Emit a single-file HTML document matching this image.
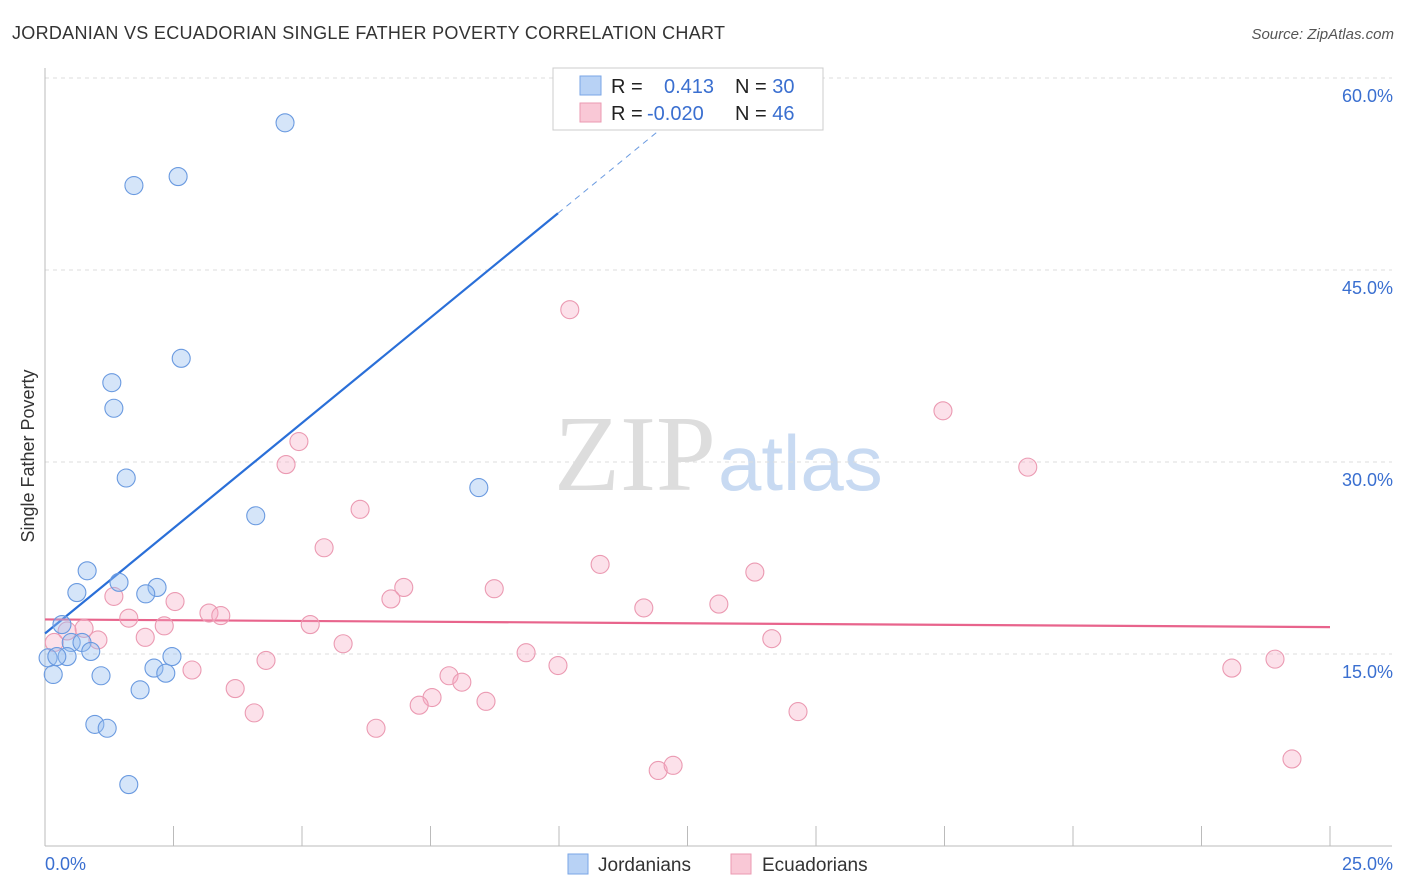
<!DOCTYPE html>
<html><head><meta charset="utf-8"><style>
body{margin:0;background:#fff;font-family:"Liberation Sans",sans-serif}
</style></head><body>
<svg id="c" width="1406" height="892" style="display:block">
<text x="12" y="39" font-size="18" fill="#333" textLength="713">JORDANIAN VS ECUADORIAN SINGLE FATHER POVERTY CORRELATION CHART</text>
<text x="1394" y="39" font-size="15" fill="#555" font-style="italic" text-anchor="end">Source: ZipAtlas.com</text>
<text transform="translate(34,456) rotate(-90)" font-size="18" fill="#333" text-anchor="middle">Single Father Poverty</text>
<text x="716" y="490" font-size="108" fill="#ddd" text-anchor="end" font-family="Liberation Serif,serif">ZIP</text>
<text x="718" y="490" font-size="78" fill="#c8daf2">atlas</text>
<g id="grid"></g><g id="axes"></g><g id="lines"></g><g id="pts"></g>
<g>
<rect x="553" y="68" width="270" height="62" fill="#fff" stroke="#ccc"/>
<rect x="580" y="76" width="21" height="19" fill="#b8d2f5" stroke="#7aa6e6"/>
<rect x="580" y="103" width="21" height="19" fill="#f9c8d6" stroke="#eb9ab2"/>
<text x="611" y="93" font-size="20" fill="#222">R = <tspan fill="#3a6fd0" x="664">0.413</tspan><tspan fill="#222" x="735">N = </tspan><tspan fill="#3a6fd0">30</tspan></text>
<text x="611" y="120" font-size="20" fill="#222">R = <tspan fill="#3a6fd0" x="647">-0.020</tspan><tspan fill="#222" x="735">N = </tspan><tspan fill="#3a6fd0">46</tspan></text>
</g>
<g>
<rect x="568" y="854" width="20" height="20" fill="#b8d2f5" stroke="#7aa6e6"/>
<text x="598" y="871" font-size="19" fill="#333">Jordanians</text>
<rect x="731" y="854" width="20" height="20" fill="#f9c8d6" stroke="#eb9ab2"/>
<text x="762" y="871" font-size="19" fill="#333">Ecuadorians</text>
</g>
</svg>
<script>
const blueX=[4.67,1.73,2.59,2.65,1.30,1.34,1.58,8.44,4.10,0.82,0.62,1.44,2.18,1.96,0.33,0.51,0.72,0.89,0.43,0.06,0.23,0.16,1.09,2.47,2.12,2.35,1.85,0.97,1.21,1.63];
const blueY=[56.5,51.6,52.3,38.1,36.2,34.2,28.75,28.0,25.8,21.5,19.8,20.6,20.2,19.7,17.3,15.9,15.9,15.2,14.8,14.7,14.8,13.4,13.3,14.8,13.9,13.5,12.2,9.5,9.2,4.8];
const pinkX=[10.21,17.47,19.12,4.94,4.69,6.13,5.43,10.80,13.81,6.98,8.74,6.73,1.34,2.53,11.65,13.11,3.19,3.42,1.63,2.32,5.16,0.76,0.43,1.95,1.03,14.14,0.18,5.80,9.36,4.30,9.98,2.86,7.86,8.11,23.09,23.93,3.70,7.53,7.28,8.58,4.07,14.65,6.44,11.93,12.22,24.26];
const pinkY=[41.9,34.0,29.6,31.6,29.8,26.3,23.3,22.0,21.4,20.2,20.1,19.3,19.5,19.1,18.6,18.9,18.2,18.0,17.8,17.2,17.3,17.0,16.8,16.3,16.1,16.2,15.9,15.8,15.1,14.5,14.1,13.75,13.3,12.8,13.9,14.6,12.3,11.6,11.0,11.3,10.4,10.5,9.2,5.9,6.3,6.8];
const yTicks=[15,30,45,60];
const xTickLabels=["0.0%","25.0%"];
const blueTrend=[16.6,3.29];   // intercept, slope
const pinkTrend=[17.7,-0.024];
const NS='http://www.w3.org/2000/svg';
const sx=v=>45+v*51.4, sy=v=>846-v*12.8;
function mk(p,tag,a){const e=document.createElementNS(NS,tag);for(const k in a)e.setAttribute(k,a[k]);document.getElementById(p).appendChild(e);return e;}
yTicks.forEach(t=>{
  const l=mk('grid','line',{x1:45,x2:1392,y1:sy(t),y2:sy(t),stroke:'#ddd','stroke-dasharray':'4,4'});
  
  
  const tx=mk('grid','text',{x:1393,y:sy(t)+24,'font-size':18,fill:'#3a6fd0','text-anchor':'end'});
  tx.textContent=t.toFixed(1)+'%';
  
  
});
let a=mk('axes','line',{x1:45,x2:45,y1:68,y2:846,stroke:'#bbb'});


a=mk('axes','line',{x1:45,x2:1392,y1:846,y2:846,stroke:'#bbb'});


for(let i=0;i<=10;i++){const t=mk('axes','line',{x1:sx(i*2.5),x2:sx(i*2.5),y1:826,y2:846,stroke:'#bbb'});

}
let xl=mk('axes','text',{x:45,y:870,'font-size':18,fill:'#3a6fd0'});xl.textContent=xTickLabels[0];


xl=mk('axes','text',{x:1393,y:870,'font-size':18,fill:'#3a6fd0','text-anchor':'end'});xl.textContent=xTickLabels[1];


function pt(x,y,f,s,n){const c=mk('pts','circle',{cx:sx(x),cy:sy(y),r:9,fill:f,stroke:s,'stroke-width':1.1});

}
pinkX.forEach((x,i)=>pt(x,pinkY[i],'rgba(245,170,195,0.35)','#eb9ab2','ecuadorian-point'));
blueX.forEach((x,i)=>pt(x,blueY[i],'rgba(150,190,240,0.4)','#6a9ae0','jordanian-point'));
const bx1=9.98,bx2=(60-blueTrend[0])/blueTrend[1];
let ln=mk('lines','line',{x1:sx(0),y1:sy(blueTrend[0]),x2:sx(bx1),y2:sy(blueTrend[0]+blueTrend[1]*bx1),stroke:'#2a6fd8','stroke-width':2.2});


ln=mk('lines','line',{x1:sx(bx1),y1:sy(blueTrend[0]+blueTrend[1]*bx1),x2:sx(bx2),y2:sy(blueTrend[0]+blueTrend[1]*bx2),stroke:'#6a9ae0','stroke-width':1,'stroke-dasharray':'6,5'});


ln=mk('lines','line',{x1:sx(0),y1:sy(pinkTrend[0]),x2:sx(25),y2:sy(pinkTrend[0]+pinkTrend[1]*25),stroke:'#e8648c','stroke-width':2.2});


</script>
</body></html>
